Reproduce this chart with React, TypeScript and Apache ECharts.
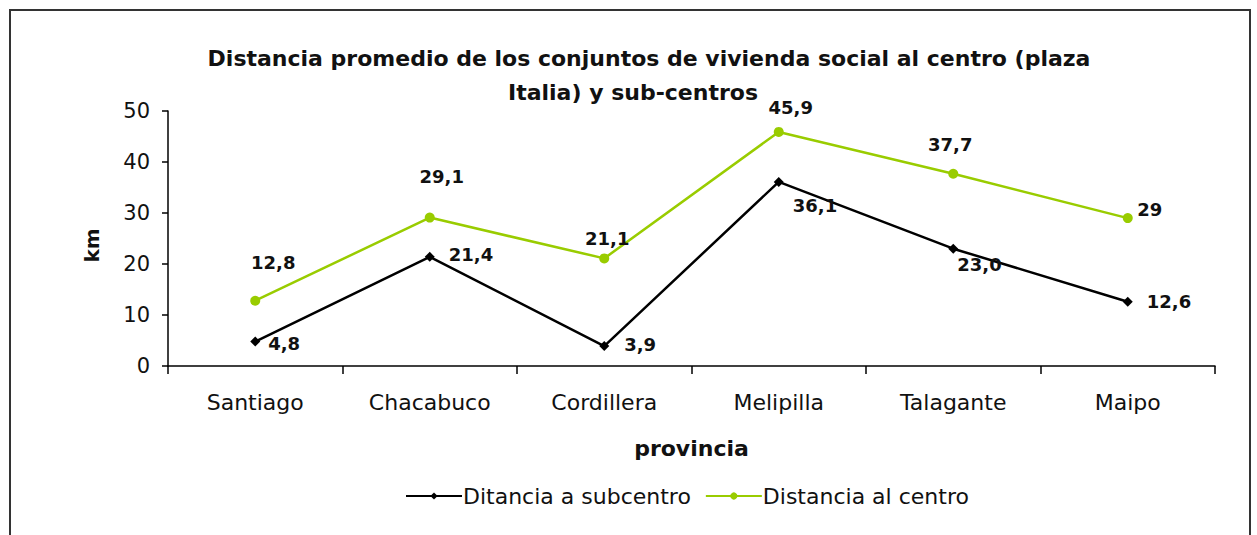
import React, { useEffect, useRef } from "react";
import * as echarts from "echarts";

const categories = ["Santiago", "Chacabuco", "Cordillera", "Melipilla", "Talagante", "Maipo"];
const subcentro = [4.8, 21.4, 3.9, 36.1, 23.0, 12.6];
const centro = [12.8, 29.1, 21.1, 45.9, 37.7, 29];
const subcentroLabels = ["4,8", "21,4", "3,9", "36,1", "23,0", "12,6"];
const centroLabels = ["12,8", "29,1", "21,1", "45,9", "37,7", "29"];
const seriesNames = ["Ditancia a subcentro", "Distancia al centro"];
const titleLine1 = "Distancia promedio de los conjuntos de vivienda social al centro (plaza";
const titleLine2 = "Italia) y sub-centros";

const FONT = "'DejaVu Sans', Arial, sans-serif";

// label placements (offsets in px) per point
const subOffsets: [number, number][] = [[3, 2], [9, -2], [10, -2], [4, 24], [-6, 16], [9, 0]];
const cenOffsets: [number, number][] = [[18, -38], [12, -41], [3, -20], [12, -24], [-3, -29], [22, -9]];

export default function App() {
  const ref = useRef<HTMLDivElement>(null);
  useEffect(() => {
    document.body.style.margin = "0";
    const chart = echarts.init(ref.current!, null, { renderer: "svg" });
    const labelStyle = { fontFamily: FONT, fontSize: 18, fontWeight: "bold" as const, color: "#111" };
    const titleStyle = { fontFamily: FONT, fontSize: 22, fontWeight: "bold" as const, color: "#111", lineHeight: 34 };
    chart.setOption({
      animation: false,
      backgroundColor: "#fff",
      title: [
        { text: titleLine1, left: 644, top: 36, textAlign: "center", textStyle: titleStyle },
        { text: titleLine2, left: 628, top: 70, textAlign: "center", textStyle: titleStyle },
      ],
      graphic: [
        {
          type: "rect",
          shape: { x: 10, y: 10, width: 1240, height: 540 },
          style: { fill: "none", stroke: "#333", lineWidth: 2 },
          silent: true,
        },
      ],
      grid: { left: 168, right: 42, top: 111, bottom: 169 },
      legend: {
        bottom: 23,
        left: 400,
        itemWidth: 56,
        itemHeight: 9,
        itemGap: 14,
        textStyle: { fontFamily: FONT, fontSize: 22, color: "#111", padding: [0, 0, 0, -4] },
        data: seriesNames,
      },
      xAxis: {
        type: "category",
        data: categories,
        boundaryGap: true,
        name: "provincia",
        nameLocation: "middle",
        nameGap: 71,
        nameTextStyle: { fontFamily: FONT, fontSize: 22, fontWeight: "bold", color: "#111" },
        axisLine: { lineStyle: { color: "#000", width: 1.5 } },
        axisTick: { show: true, length: 8, alignWithLabel: false, lineStyle: { color: "#000", width: 1.5 } },
        axisLabel: { fontFamily: FONT, fontSize: 22, color: "#111", margin: 25 },
      },
      yAxis: {
        type: "value",
        min: 0,
        max: 50,
        interval: 10,
        name: "km",
        nameLocation: "middle",
        nameGap: 66,
        nameRotate: 90,
        nameTextStyle: { fontFamily: FONT, fontSize: 20, fontWeight: "bold", color: "#111", padding: [0, 14, 0, 0] },
        axisLine: { show: true, lineStyle: { color: "#000", width: 1.5 } },
        axisTick: { show: true, length: 6, lineStyle: { color: "#000", width: 1.5 } },
        axisLabel: { fontFamily: FONT, fontSize: 21, color: "#111", margin: 18 },
        splitLine: { show: false },
      },
      series: [
        {
          name: seriesNames[0],
          type: "line",
          data: subcentro.map((v, i) => ({
            value: v,
            label: { offset: subOffsets[i] },
          })),
          color: "#000",
          lineStyle: { color: "#000", width: 2.5 },
          symbol: "diamond",
          symbolSize: 10,
          itemStyle: { color: "#000" },
          label: {
            show: true,
            position: "right",
            formatter: (p: any) => subcentroLabels[p.dataIndex],
            ...labelStyle,
          },
          z: 3,
        },
        {
          name: seriesNames[1],
          type: "line",
          data: centro.map((v, i) => ({
            value: v,
            label: { offset: cenOffsets[i] },
          })),
          color: "#99cc00",
          lineStyle: { color: "#99cc00", width: 2.5 },
          symbol: "circle",
          symbolSize: 10,
          itemStyle: { color: "#99cc00" },
          label: {
            show: true,
            position: "inside",
            formatter: (p: any) => centroLabels[p.dataIndex],
            ...labelStyle,
          },
          z: 2,
        },
      ],
    });
    return () => chart.dispose();
  }, []);
  return <div ref={ref} style={{ width: 1257, height: 535 }} />;
}
